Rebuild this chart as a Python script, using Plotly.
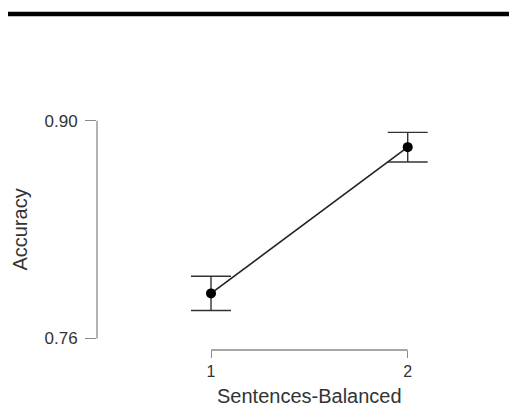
import plotly.graph_objects as go

# Data
conditions = [1, 2]
accuracy = [0.789, 0.883]
ci_half = [0.011, 0.0095]
y_ticks = [0.76, 0.90]
y_tick_labels = ["0.76", "0.90"]
x_ticks = [1, 2]
x_tick_labels = ["1", "2"]
x_title = "Sentences-Balanced"
y_title = "Accuracy"

FONT = "Liberation Sans, Arial, sans-serif"
AXIS_GRAY = "#8a8a8a"
TEXT_GRAY = "#333333"

fig = go.Figure()
fig.add_trace(go.Scatter(
    x=conditions, y=accuracy,
    mode="lines+markers",
    line=dict(color="#222222", width=1.6),
    marker=dict(color="black", size=10),
    error_y=dict(type="data", array=ci_half, visible=True,
                 color="#333333", thickness=1.4, width=20),
    showlegend=False,
    hoverinfo="skip",
))

# R-style axis lines spanning only the tick range
fig.add_shape(type="line", xref="paper", yref="y", x0=0, x1=0,
              y0=y_ticks[0], y1=y_ticks[-1],
              line=dict(color=AXIS_GRAY, width=1.3))
fig.add_shape(type="line", xref="x", yref="paper", x0=x_ticks[0], x1=x_ticks[-1],
              y0=0, y1=0, line=dict(color=AXIS_GRAY, width=1.3))
# thick separator line at top
fig.add_shape(type="line", xref="paper", yref="paper",
              x0=-89 / 403, x1=419 / 403, y0=1 + 86 / 250, y1=1 + 86 / 250,
              line=dict(color="black", width=4.5))

# axis titles centred on the tick range (R style)
fig.add_annotation(text=x_title, xref="x", x=(x_ticks[0] + x_ticks[-1]) / 2,
                   yref="paper", y=0, yanchor="middle", yshift=-46,
                   showarrow=False, font=dict(size=20, color=TEXT_GRAY))
fig.add_annotation(text=y_title, yref="y", y=(y_ticks[0] + y_ticks[-1]) / 2,
                   xref="paper", x=0, xanchor="center", xshift=-77,
                   textangle=-90, showarrow=False,
                   font=dict(size=20, color=TEXT_GRAY))

fig.update_layout(
    width=509, height=401,
    margin=dict(l=89, r=17, t=92, b=59, autoexpand=False),
    paper_bgcolor="white", plot_bgcolor="white",
    font=dict(family=FONT, color=TEXT_GRAY),
    xaxis=dict(
        range=[0.4204, 2.4692],
        tickmode="array", tickvals=x_ticks, ticktext=x_tick_labels,
        ticks="outside", ticklen=7, tickcolor=AXIS_GRAY, tickwidth=1.3,
        showgrid=False, zeroline=False, showline=False,
        tickfont=dict(size=16, color=TEXT_GRAY),
        automargin=False,
    ),
    yaxis=dict(
        range=[0.75261, 0.91331],
        tickmode="array", tickvals=y_ticks, ticktext=y_tick_labels,
        ticks="outside", ticklen=11, tickcolor=AXIS_GRAY, tickwidth=1.3,
        showgrid=False, zeroline=False, showline=False,
        tickfont=dict(size=17, color=TEXT_GRAY),
        ticklabelstandoff=4,
        automargin=False,
    ),
)

fig.write_html("out.html")
